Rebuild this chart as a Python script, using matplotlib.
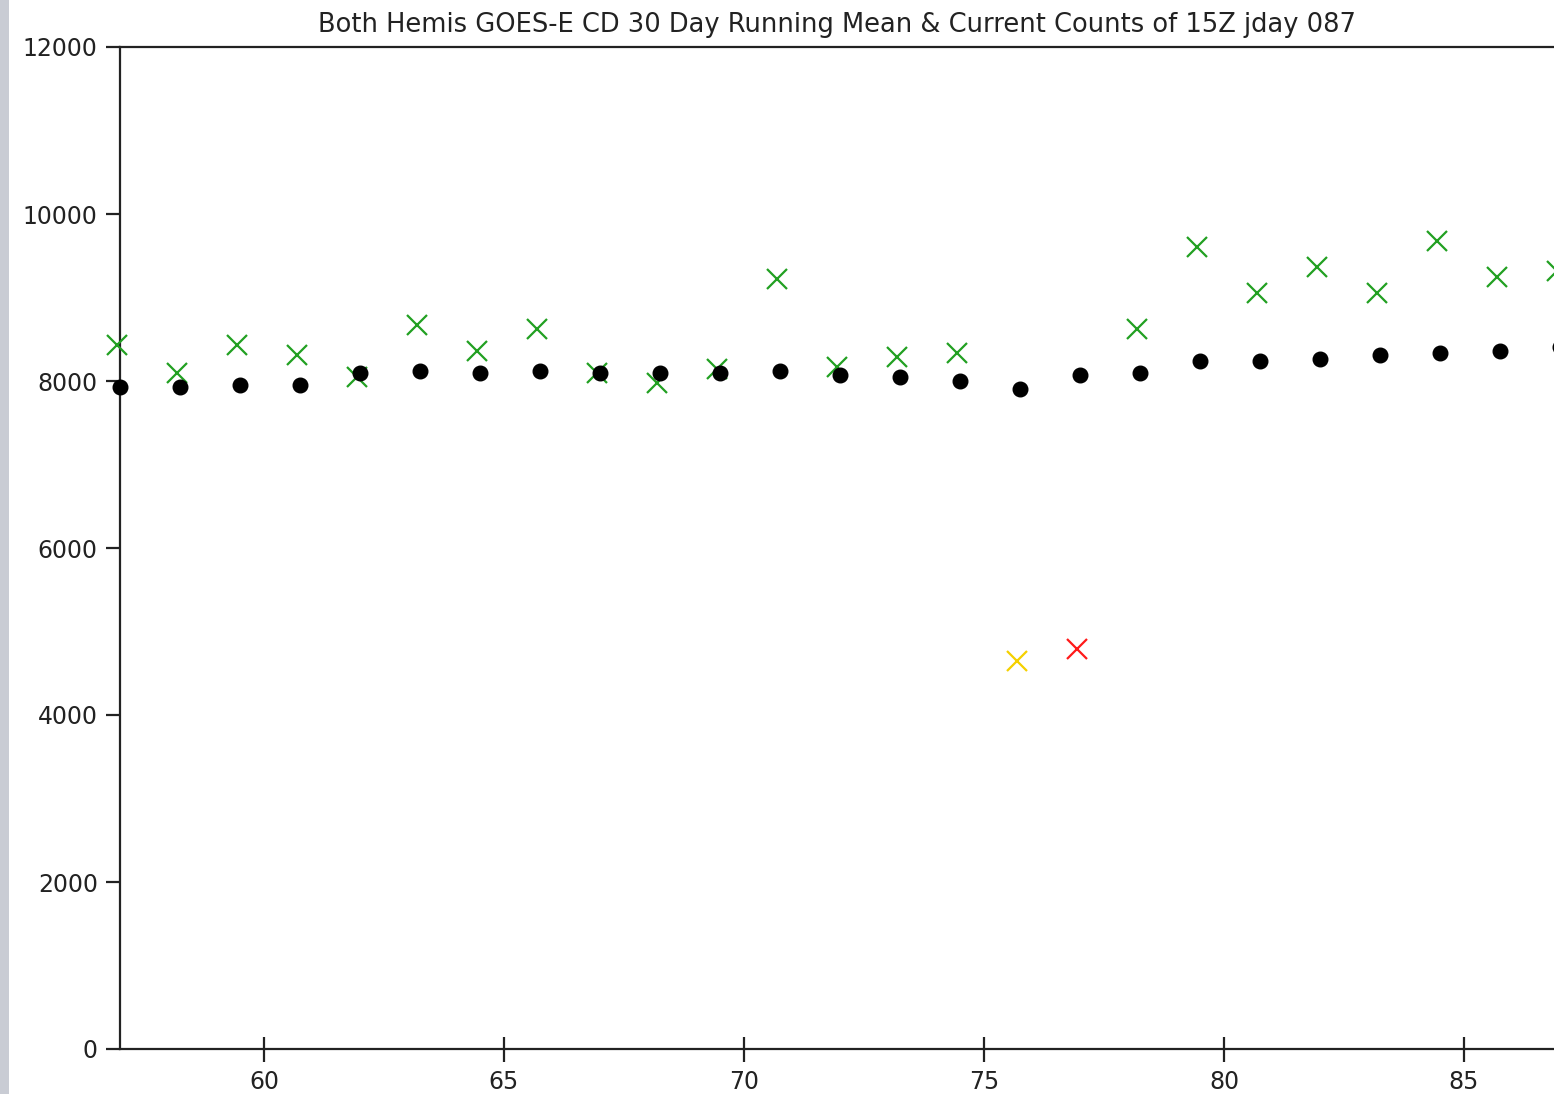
import numpy as np
import matplotlib.pyplot as plt
from matplotlib.patches import Rectangle

# julian days of the 30 day window
days = [57.0, 58.25, 59.5, 60.75, 62.0, 63.25, 64.5, 65.75, 67.0, 68.25,
        69.5, 70.75, 72.0, 73.25, 74.5, 75.75, 77.0, 78.25, 79.5, 80.75,
        82.0, 83.25, 84.5, 85.75, 87.0]

# 30 day running mean (black dots)
running_mean = [7930, 7930, 7950, 7950, 8095, 8120, 8095, 8120, 8095, 8095,
                8095, 8120, 8070, 8050, 8000, 7905, 8070, 8095, 8240, 8240,
                8265, 8310, 8335, 8360, 8405]

# current counts (crosses)
current = [8430, 8095, 8430, 8310, 8050, 8670, 8360, 8625, 8095, 7975,
           8145, 9220, 8170, 8285, 8335, 4650, 4790, 8625, 9605, 9055,
           9365, 9055, 9680, 9245, 9320]

# status of each current count
status = ['ok'] * 15 + ['warn', 'bad'] + ['ok'] * 8

status_colors = {'ok': '#22a022', 'warn': '#f5d000', 'bad': '#ff1a1a'}

plt.rcParams['font.family'] = ['DejaVu Sans']

fig = plt.figure(figsize=(15.54, 10.94), dpi=100)
W, H = 1554, 1094
ax = fig.add_axes([120 / W, 1 - 1049 / H, (1554 - 120) / W, (1049 - 47) / H])

# textured strip at the left edge of the screenshot
fig.patches.append(Rectangle((0, 0), 9 / W, 1, transform=fig.transFigure,
                             facecolor='#c9ccd4', edgecolor='none'))

offset = 0.06
for s in status_colors:
    xs = [d - offset for d, st in zip(days, status) if st == s]
    ys = [c for c, st in zip(current, status) if st == s]
    ax.plot(xs, ys, linestyle='none', marker='x', markersize=14,
            markeredgewidth=1.6, color=status_colors[s], clip_on=False, zorder=3)

ax.plot(days, running_mean, linestyle='none', marker='o', markersize=10.5,
        color='black', clip_on=False, zorder=4)

ax.set_xlim(57, 86.875)
ax.set_ylim(0, 12000)
ax.set_xticks([60, 65, 70, 75, 80, 85])
ax.set_yticks(np.arange(0, 12001, 2000))

ax.spines['right'].set_visible(False)
for sp in ['left', 'bottom', 'top']:
    ax.spines[sp].set_linewidth(1.6)
    ax.spines[sp].set_color('#222222')

ax.tick_params(axis='x', direction='inout', length=18, width=1.6,
               labelsize=17, pad=6, colors='#222222')
ax.tick_params(axis='y', direction='out', length=10, width=1.6,
               labelsize=17, pad=6, colors='#222222')

ax.set_title('Both Hemis GOES-E CD 30 Day Running Mean & Current Counts of 15Z jday 087',
             fontsize=18.5, pad=11, color='#222222')

fig.savefig('out.png', dpi=100)
